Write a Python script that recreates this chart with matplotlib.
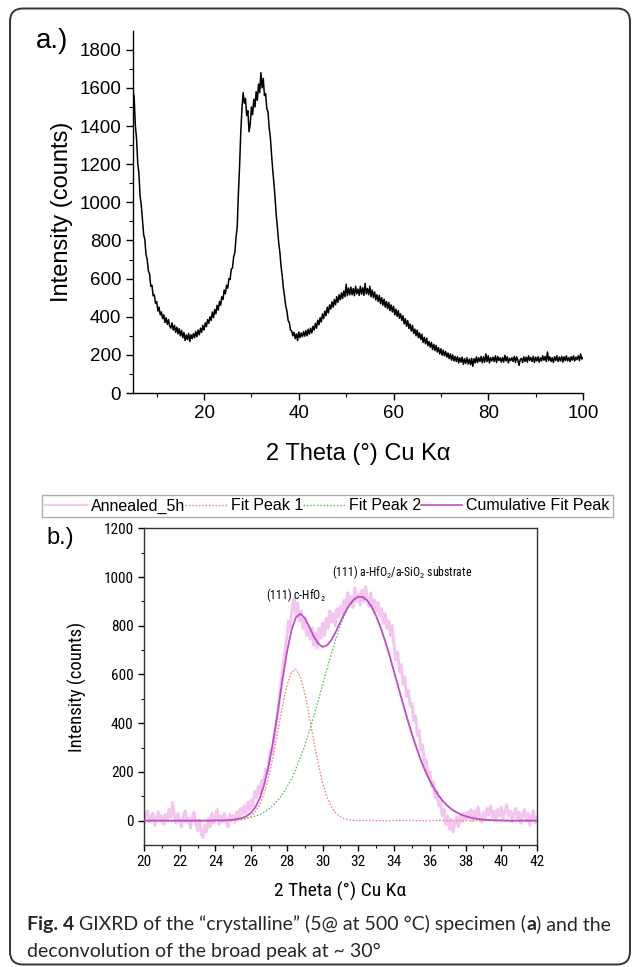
import numpy as np
import matplotlib
matplotlib.use("Agg")
import matplotlib.pyplot as plt
from matplotlib import font_manager
from matplotlib.lines import Line2D
from matplotlib.patches import FancyBboxPatch

# ---------------- data: panel a (GIXRD 5-100 deg, 0.25 deg steps) ----------------
theta_a_start, theta_a_end = 5.0, 100.0
intensity_a = [
    1590, 1545, 1400, 1335, 1205, 1150, 1030, 985,
    910, 830, 805, 725, 700, 640, 625, 560,
    565, 510, 515, 470, 480, 430, 450, 410,
    425, 390, 410, 370, 395, 360, 385, 350,
    340, 368, 330, 355, 318, 345, 310, 338,
    300, 328, 290, 318, 275, 305, 280, 312,
    270, 305, 285, 312, 290, 322, 295, 330,
    305, 340, 318, 355, 330, 368, 348, 385,
    365, 400, 380, 425, 395, 438, 415, 460,
    435, 480, 460, 505, 490, 540, 520, 565,
    550, 600, 595, 650, 655, 715, 735, 815,
    870, 1045, 1190, 1365, 1490, 1575, 1520, 1545,
    1455, 1480, 1370, 1410, 1500, 1460, 1540, 1500,
    1580, 1535, 1620, 1575, 1680, 1600, 1650, 1560,
    1570, 1490, 1475, 1390, 1340, 1250, 1170, 1100,
    1020, 930, 865, 790, 740, 665, 615, 550,
    505, 455, 430, 380, 370, 330, 325, 300,
    318, 285, 310, 275, 320, 290, 315, 295,
    322, 298, 328, 300, 335, 308, 340, 315,
    350, 330, 365, 340, 382, 358, 395, 372,
    415, 390, 430, 405, 450, 420, 462, 440,
    478, 450, 490, 462, 505, 475, 515, 488,
    525, 495, 535, 505, 570, 510, 550, 515,
    555, 515, 548, 510, 560, 520, 545, 512,
    560, 518, 552, 512, 575, 520, 548, 515,
    560, 505, 540, 500, 530, 488, 515, 480,
    512, 468, 500, 460, 492, 450, 480, 442,
    475, 432, 462, 425, 455, 410, 440, 402,
    432, 392, 415, 380, 405, 362, 390, 350,
    380, 338, 362, 325, 355, 312, 335, 300,
    330, 290, 315, 280, 308, 265, 292, 258,
    288, 248, 270, 240, 265, 228, 255, 222,
    250, 215, 238, 205, 232, 198, 225, 195,
    218, 188, 210, 180, 205, 172, 200, 168,
    192, 165, 190, 158, 185, 162, 188, 150,
    180, 155, 185, 152, 178, 148, 182, 140,
    180, 158, 190, 160, 185, 165, 192, 158,
    190, 162, 205, 165, 195, 158, 185, 168,
    188, 165, 195, 160, 192, 170, 185, 162,
    186, 162, 198, 168, 190, 158, 182, 170,
    185, 165, 192, 160, 190, 172, 145, 175,
    182, 160, 190, 165, 188, 162, 195, 170,
    186, 165, 192, 160, 188, 168, 190, 162,
    185, 168, 195, 172, 192, 165, 215, 170,
    190, 165, 185, 160, 190, 170, 195, 165,
    188, 168, 192, 162, 190, 170, 195, 168,
    186, 165, 190, 172, 195, 168, 188, 175,
    195, 170, 205, 178, 185,
]

# ---------------- data: panel b (deconvolution 20-42 deg) ----------------
theta_b_start, theta_b_end = 20.0, 42.0
annealed_5h = [
    -10, 25, 40, -5, 15, 30, -20, 10, 35, 0,
    20, -15, 25, 5, 45, 15, 75, 20, -10, 30,
    5, -25, 20, 40, -5, 10, -30, 15, 35, -15,
    -40, 5, -55, -70, -20, -45, 10, -25, 30, -10,
    15, 45, -15, 20, -5, 30, 5, -25, 25, 0,
    20, -5, 35, 10, 50, 25, 60, 30, 75, 45,
    85, 60, 120, 95, 140, 110, 165, 150, 210, 195,
    250, 290, 275, 350, 390, 445, 520, 580, 640, 700,
    760, 820, 790, 880, 910, 840, 895, 820, 860, 790,
    830, 760, 800, 745, 790, 720, 770, 710, 790, 750,
    810, 760, 830, 790, 860, 815, 850, 800, 870, 835,
    880, 850, 905, 870, 935, 890, 920, 875, 955, 900,
    930, 885, 945, 900, 960, 910, 880, 935, 870, 905,
    860, 895, 840, 870, 810, 850, 790, 820, 760, 800,
    720, 660, 690, 610, 640, 560, 590, 510, 535, 470,
    480, 410, 430, 350, 370, 290, 310, 230, 250, 180,
    200, 140, 160, 95, 120, 60, 80, 20, 45, -15,
    20, -35, 5, -45, -10, 15, -25, 20, -5, 30,
    5, 35, 10, 45, 0, 40, 15, 55, 20, -5,
    35, 10, 50, 25, 60, 15, 40, 0, 45, 20,
    55, 10, 35, 65, 20, 40, -5, 30, 50, 10,
    35, -10, 25, 45, 0, 30, -20, 20, 40, -10,
    15,
]

# fit curves on a 0.25 deg grid (20 ... 42)
fit_peak_1 = (
    [0] * 20
    + [1, 2, 4, 9, 19, 38, 69, 117, 185, 271, 370, 469, 554, 609, 622,
       591, 523, 430, 329, 235, 155, 96, 55, 29, 15, 7, 3, 1]
    + [0] * 41
)
fit_peak_2 = (
    [0] * 16
    + [1, 1, 1, 2, 3, 5, 7, 10, 14, 19, 26, 36, 48, 64, 84, 108, 137, 171,
       212, 258, 309, 366, 428, 492, 558, 624, 688, 748, 802, 848, 883, 907,
       919, 918, 903, 877, 839, 792, 737, 676, 611, 545, 479, 415, 355, 299,
       248, 203, 164, 131, 102, 79, 60, 45, 34, 25, 18, 13, 9, 6, 4, 3, 2, 1, 1]
    + [0] * 8
)
cumulative_fit = (
    [0] * 16
    + [1, 1, 1, 2, 4, 7, 11, 19, 33, 57, 95, 153, 233, 335, 454, 577, 691,
       780, 834, 849, 832, 796, 757, 727, 713, 720, 743, 777, 817, 855, 886,
       908, 919, 918, 903, 877, 839, 792, 737, 676, 611, 545, 479, 415, 355,
       299, 248, 203, 164, 131, 102, 79, 60, 45, 34, 25, 18, 13, 9, 6, 4, 3,
       2, 1, 1]
    + [0] * 8
)

legend_labels = ["Annealed_5h", "Fit Peak 1", "Fit Peak 2", "Cumulative Fit Peak"]
peak_labels = ["(111) c-HfO$_2$", "(111) a-HfO$_2$/a-SiO$_2$ substrate"]
peak_label_pos = [(28.5, 925), (34.45, 1020)]

theta_a = np.linspace(theta_a_start, theta_a_end, len(intensity_a))
theta_b = np.linspace(theta_b_start, theta_b_end, len(annealed_5h))
theta_fit = np.linspace(theta_b_start, theta_b_end, len(fit_peak_1))

# ---------------- fonts ----------------
names = {f.name for f in font_manager.fontManager.ttflist}
MAIN = "Liberation Sans" if "Liberation Sans" in names else "DejaVu Sans"
narrow_candidates = ["Liberation Sans Narrow", "Arial Narrow", "Roboto Condensed",
                     "Open Sans Condensed", "Noto Sans Condensed", "DejaVu Sans Condensed"]
NARROW = next((n for n in narrow_candidates if n in names), None)
if NARROW is None:
    NARROW = MAIN
    nscale = 0.88
else:
    nscale = 1.0
CAP = "Lato" if "Lato" in names else MAIN
plt.rcParams["font.family"] = [MAIN, "DejaVu Sans"]
plt.rcParams["mathtext.fontset"] = "custom"
plt.rcParams["mathtext.rm"] = NARROW
plt.rcParams["mathtext.it"] = NARROW
plt.rcParams["mathtext.bf"] = NARROW

W, H = 636, 967
fig = plt.figure(figsize=(W / 100, H / 100), dpi=100)
fig.patch.set_facecolor("white")

def fx(px):
    return px / W

def fy(py):
    return 1 - py / H

# outer rounded frame
frame = FancyBboxPatch((0.10, 0.025), 6.20, 9.56,
                       boxstyle="round,pad=0,rounding_size=0.13",
                       transform=fig.dpi_scale_trans, fill=False,
                       edgecolor="#333333", linewidth=1.4)
fig.patches.append(frame)

# ---------------- panel a ----------------
axa = fig.add_axes([fx(133), fy(393), fx(583) - fx(133), fy(30.7) - fy(393)])
axa.plot(theta_a, intensity_a, color="black", linewidth=1.1)
axa.set_xlim(5, 100)
axa.set_ylim(0, 1900)
axa.set_xticks([20, 40, 60, 80, 100])
axa.set_xticks(np.arange(10, 100, 20), minor=True)
axa.set_yticks(np.arange(0, 1801, 200))
axa.set_yticks(np.arange(100, 1900, 200), minor=True)
for s in ["top", "right"]:
    axa.spines[s].set_visible(False)
for s in ["left", "bottom"]:
    axa.spines[s].set_linewidth(1.0)
axa.tick_params(which="major", direction="out", length=5, width=1, labelsize=13.5)
axa.tick_params(which="minor", direction="out", length=3, width=0.8)
axa.set_xlabel("2 Theta (°) Cu Kα", fontsize=17)
axa.set_ylabel("Intensity (counts)", fontsize=17)
axa.xaxis.set_label_coords(0.5, -0.138)
axa.yaxis.set_label_coords(-0.133, 0.5)
fig.text(fx(52), fy(41), "a.)", fontsize=20, ha="center", va="center")

# ---------------- panel b ----------------
axb = fig.add_axes([fx(144), fy(845), fx(537) - fx(144), fy(528.3) - fy(845)])
c_raw, c_p1, c_p2, c_cum = "#f3c6f0", "#f08a86", "#6dbf6a", "#c24ec6"
axb.plot(theta_b, annealed_5h, color=c_raw, linewidth=2.2, zorder=1)
axb.plot(theta_fit, fit_peak_1, color=c_p1, linestyle=(0, (1.2, 1.2)), linewidth=1.0, zorder=2)
axb.plot(theta_fit, fit_peak_2, color=c_p2, linestyle=(0, (1.2, 1.2)), linewidth=1.0, zorder=2)
axb.plot(theta_fit, cumulative_fit, color=c_cum, linewidth=1.3, zorder=3)
axb.set_xlim(20, 42)
axb.set_ylim(-100, 1200)
axb.set_xticks(np.arange(20, 43, 2))
axb.set_xticks(np.arange(21, 42, 2), minor=True)
axb.set_yticks(np.arange(0, 1201, 200))
axb.set_yticks(np.arange(100, 1200, 200), minor=True)
for s in axb.spines.values():
    s.set_linewidth(1.0)
    s.set_color("#333333")
axb.tick_params(which="major", direction="out", length=4, width=1, labelsize=11 * nscale)
axb.tick_params(which="minor", direction="out", length=2.5, width=0.8)
for lab in axb.get_xticklabels() + axb.get_yticklabels():
    lab.set_family(NARROW)
axb.set_xlabel("2 Theta (°) Cu Kα", fontsize=14 * nscale, family=NARROW)
axb.set_ylabel("Intensity (counts)", fontsize=13.5 * nscale, family=NARROW)
axb.xaxis.set_label_coords(0.5, -0.115)
axb.yaxis.set_label_coords(-0.145, 0.5)
for txt, (px_, py_) in zip(peak_labels, peak_label_pos):
    axb.text(px_, py_, txt, fontsize=8.5, family=NARROW, ha="center", va="center")
fig.text(fx(60), fy(538), "b.)", fontsize=17, ha="center", va="center")

handles = [
    Line2D([], [], color=c_raw, linewidth=1.5),
    Line2D([], [], color=c_p1, linestyle=(0, (1.2, 1.2)), linewidth=1.0),
    Line2D([], [], color=c_p2, linestyle=(0, (1.2, 1.2)), linewidth=1.0),
    Line2D([], [], color=c_cum, linewidth=1.2),
]
leg = fig.legend(handles, legend_labels, loc="center",
                 bbox_to_anchor=(fx(327.5), fy(506)), ncol=4, fontsize=11.5,
                 frameon=True, fancybox=False, edgecolor="#9a9a9a",
                 handlelength=2.6, handletextpad=0.25, columnspacing=0.0,
                 borderpad=0.2, borderaxespad=0)
leg.get_frame().set_linewidth(1.0)

# ---------------- caption ----------------
cap_size = 14
cap_col = "#262626"
t1 = fig.text(fx(27), fy(930), "Fig. 4", fontsize=cap_size, family=CAP,
              fontweight="bold", ha="left", va="baseline", color=cap_col)
t2 = fig.text(0, 0, " GIXRD of the “crystalline” (5@ at 500 °C) specimen (",
              fontsize=cap_size, family=CAP, ha="left", va="baseline", color=cap_col)
fig.canvas.draw()
r = fig.canvas.get_renderer()
def place_after(prev, artist):
    bb = prev.get_window_extent(r)
    x0 = bb.x1 / fig.bbox.width
    y0 = prev.get_position()[1]
    artist.set_position((x0, y0))
    fig.canvas.draw()
place_after(t1, t2)
t3 = fig.text(0, 0, "a", fontsize=cap_size, family=CAP, fontweight="bold",
              ha="left", va="baseline", color=cap_col)
place_after(t2, t3)
t4 = fig.text(0, 0, ") and the", fontsize=cap_size, family=CAP,
              ha="left", va="baseline", color=cap_col)
place_after(t3, t4)
fig.text(fx(27), fy(957), "deconvolution of the broad peak at ~ 30°", fontsize=cap_size,
         family=CAP, ha="left", va="baseline", color=cap_col)

fig.savefig("out.png", dpi=100)
